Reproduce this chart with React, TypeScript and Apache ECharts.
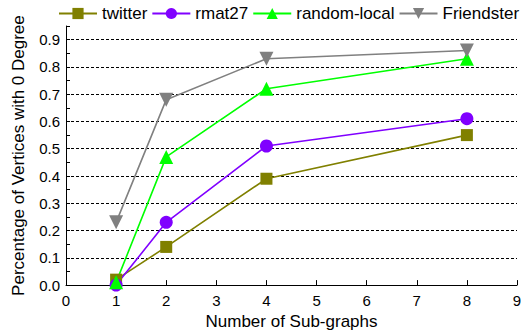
import React, { useEffect, useRef } from "react";
import * as echarts from "echarts";

const xValues = [1, 2, 4, 8];
const twitter = [0.02, 0.14, 0.39, 0.55];
const rmat27 = [0.0, 0.23, 0.51, 0.61];
const randomLocal = [0.01, 0.47, 0.72, 0.83];
const friendster = [0.23, 0.68, 0.83, 0.86];

const FONT = "Liberation Sans, Arial, sans-serif";

export default function App() {
  const ref = useRef<HTMLDivElement>(null);
  useEffect(() => {
    const chart = echarts.init(ref.current!, null, { renderer: "svg" });
    const pts = (ys: number[]) => xValues.map((x, i) => [x, ys[i]]);
    const mk = (name: string, ys: number[], color: string, symbol: string, size: number, rotate = 0) => ({
      name,
      type: "line",
      data: pts(ys),
      symbol,
      symbolSize: size,
      symbolRotate: rotate,
      showAllSymbol: true,
      lineStyle: { color, width: 1.6 },
      itemStyle: { color },
      xAxisIndex: 0,
      yAxisIndex: 0,
    });
    chart.setOption({
      animation: false,
      textStyle: { fontFamily: FONT },
      legend: {
        top: 5,
        left: 58,
        width: 470,
        padding: 0,
        itemWidth: 38,
        itemHeight: 14,
        itemGap: 4,
        textStyle: { fontSize: 17, color: "#000", fontFamily: FONT },
        data: ["twitter", "rmat27", "random-local", "Friendster"],
      },
      grid: { left: 66, right: 11, top: 26, bottom: 47 },
      xAxis: {
        type: "value",
        min: 0,
        max: 9,
        interval: 1,
        name: "Number of Sub-graphs",
        nameLocation: "middle",
        nameGap: 25,
        nameTextStyle: { fontSize: 17, color: "#000", fontFamily: FONT },
        axisLine: { lineStyle: { color: "#000", width: 1 } },
        axisTick: { inside: true, length: 5, lineStyle: { color: "#000" } },
        axisLabel: { fontSize: 15, color: "#000", margin: 8, fontFamily: FONT },
        splitLine: { show: false },
      },
      yAxis: [
        {
          type: "value",
          min: 0,
          max: 0.95,
          interval: 0.1,
          name: "Percentage of Vertices with 0 Degree",
          nameLocation: "middle",
          nameGap: 39,
          nameTextStyle: { fontSize: 17, color: "#000", fontFamily: FONT },
          axisLine: { show: true, lineStyle: { color: "#000", width: 1 } },
          axisTick: { show: false },
          axisLabel: {
            fontSize: 15,
            color: "#000",
            margin: 6,
            showMaxLabel: false,
            fontFamily: FONT,
            formatter: (v: number) => v.toFixed(1),
          },
          splitLine: {
            show: true,
            showMinLine: false,
            showMaxLine: false,
            lineStyle: { color: "#000", type: [3, 2], width: 1 },
          },
        },
        {
          type: "value",
          min: 0,
          max: 0.95,
          interval: 0.05,
          position: "left",
          axisLine: { show: false },
          axisTick: { show: true, inside: true, length: 4, lineStyle: { color: "#000" } },
          axisLabel: { show: false },
          splitLine: { show: false },
        },
      ],
      series: [
        mk("twitter", twitter, "#808000", "rect", 12),
        mk("rmat27", rmat27, "#8000ff", "circle", 13),
        mk("random-local", randomLocal, "#00ff00", "triangle", 14),
        mk("Friendster", friendster, "#808080", "triangle", 14, 180),
      ],
    });
    return () => chart.dispose();
  }, []);
  return <div ref={ref} style={{ width: 528, height: 335, position: "absolute", left: 0, top: 0 }} />;
}
